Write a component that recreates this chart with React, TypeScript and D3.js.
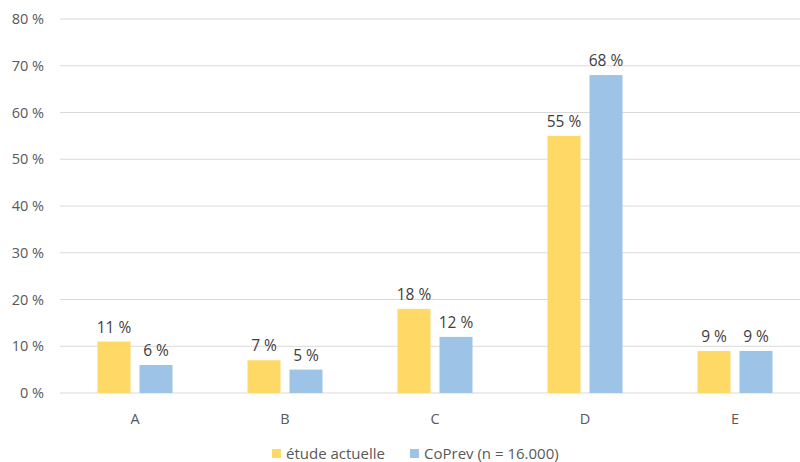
import React from "react";
import * as d3 from "d3";

const categories = ["A", "B", "C", "D", "E"];
const seriesNames = ["étude actuelle", "CoPrev (n = 16.000)"];
const etude = [11, 7, 18, 55, 9];
const coprev = [6, 5, 12, 68, 9];
const yTicks = [0, 10, 20, 30, 40, 50, 60, 70, 80];
const colors = ["#FFD966", "#9DC3E6"];

export default function App() {
  const W = 800, H = 462;
  const x = d3.scaleBand<string>().domain(categories).range([60, 810]);
  const y = d3.scaleLinear().domain([0, 80]).range([393, 19]);
  const barW = 33;
  const gap = 9;
  const font = "'Open Sans', 'Liberation Sans', sans-serif";
  const series = [etude, coprev];
  return (
    <svg width={W} height={H} style={{ position: "absolute", left: 0, top: 0 }} fontFamily={font}>
      <rect width={W} height={H} fill="#fff" />
      {yTicks.map((t) => (
        <g key={t}>
          <line x1={60} x2={800} y1={y(t)} y2={y(t)} stroke="#d9d9d9" strokeWidth={1} />
          <text x={44} y={y(t)} dy="0.35em" textAnchor="end" fontSize={14.5} fill="#595959">
            {t} %
          </text>
        </g>
      ))}
      {categories.map((c, i) => {
        const cx = (x(c) as number) + x.bandwidth() / 2;
        return (
          <g key={c}>
            {series.map((s, si) => {
              const bx = si === 0 ? cx - gap / 2 - barW : cx + gap / 2;
              return (
                <g key={si}>
                  <rect x={bx} y={y(s[i])} width={barW} height={y(0) - y(s[i])} fill={colors[si]} />
                  <text x={bx + barW / 2} y={y(s[i]) - 9} textAnchor="middle" fontSize={15.5} fill="#404040">
                    {s[i]} %
                  </text>
                </g>
              );
            })}
            <text x={cx} y={419} dy="0.35em" textAnchor="middle" fontSize={14.5} fill="#595959">
              {c}
            </text>
          </g>
        );
      })}
      <g>
        <rect x={272} y={449} width={9} height={9} fill={colors[0]} />
        <text x={286} y={453.5} dy="0.35em" fontSize={15} fill="#595959">{seriesNames[0]}</text>
        <rect x={410} y={449} width={9} height={9} fill={colors[1]} />
        <text x={424} y={453.5} dy="0.35em" fontSize={15} fill="#595959">{seriesNames[1]}</text>
      </g>
    </svg>
  );
}
